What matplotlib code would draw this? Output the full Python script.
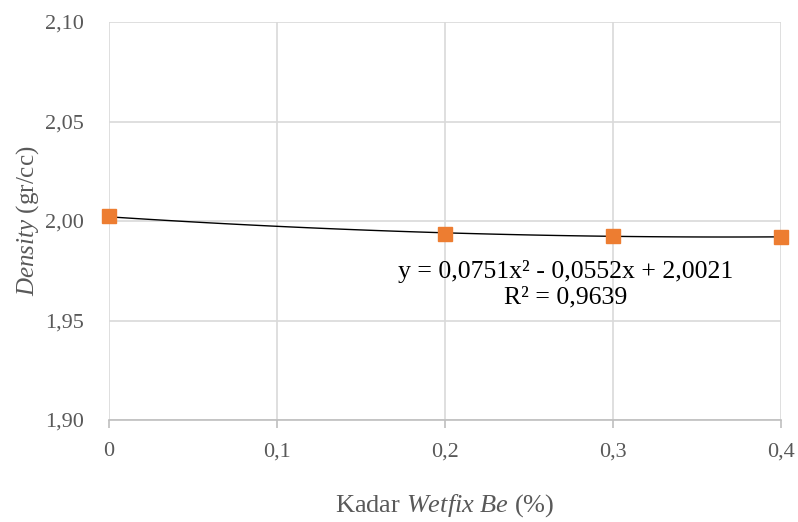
import numpy as np
import matplotlib
matplotlib.use("Agg")
import matplotlib.pyplot as plt

plt.rcParams["font.family"] = ["Liberation Serif", "DejaVu Serif"]
plt.rcParams["mathtext.fontset"] = "custom"
plt.rcParams["mathtext.rm"] = "Liberation Serif"
plt.rcParams["mathtext.it"] = "Liberation Serif:italic"

# data
kadar = [0, 0.2, 0.3, 0.4]
density = [2.0024, 1.9937, 1.9927, 1.9922]

# trendline coefficients as printed on the chart
koef = [0.0751, -0.0552, 2.0021]
persamaan = "y = 0,0751x² - 0,0552x + 2,0021\nR² = 0,9639"

xticks = [0, 0.1, 0.2, 0.3, 0.4]
yticks = [1.90, 1.95, 2.00, 2.05, 2.10]

fig = plt.figure(figsize=(7.98, 5.22), dpi=100)
ax = fig.add_axes([109 / 798, 1 - 420 / 522, (781 - 109) / 798, (420 - 22) / 522])

xs = np.linspace(0, 0.4, 100)
ax.plot(xs, np.polyval(koef, xs), color="black", lw=1, zorder=3)
ax.plot(kadar, density, "s", color="#ed7d31", markersize=10.5, zorder=4, clip_on=False)

ax.set_xlim(0, 0.4)
ax.set_ylim(1.90, 2.10)
ax.set_xticks(xticks)
ax.set_yticks(yticks)
ax.set_xticklabels(["0" if v == 0 else f"{v:.1f}".replace(".", ",") for v in xticks])
ax.set_yticklabels([f"{v:.2f}".replace(".", ",") for v in yticks])

ax.grid(True, color="#d9d9d9", lw=1.2)
ax.set_axisbelow(True)
for s in ["top", "right", "left"]:
    ax.spines[s].set_visible(False)
ax.spines["bottom"].set_color("#bfbfbf")
ax.spines["bottom"].set_linewidth(1.2)
ax.tick_params(axis="x", colors="#595959", labelsize=16, length=6, width=1.2,
               color="#bfbfbf", pad=10)
ax.tick_params(axis="y", colors="#595959", labelsize=16, length=0, pad=18)

ax.text(0.2716, 1.9683, persamaan, ha="center", va="center", fontsize=18.5,
        linespacing=1.2, color="black")

ax.set_xlabel(r"Kadar $\mathit{Wetfix\ Be}$ (%)", fontsize=19, color="#595959", labelpad=22)
ax.set_ylabel(r"$\mathit{Density}$ (gr/cc)", fontsize=18, color="#595959", labelpad=3)

fig.savefig("out.png", dpi=100)
